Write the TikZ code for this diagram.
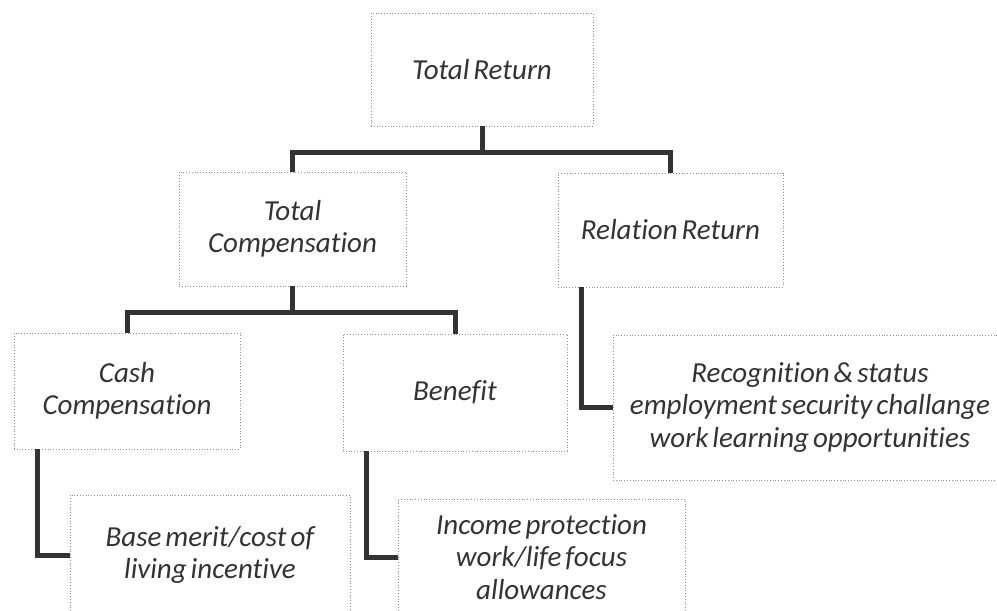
\documentclass[tikz,border=0pt]{standalone}
\usepackage{fontspec}
\setmainfont[Ligatures=CommonOff, WordSpace=0.6]{Carlito}
\begin{document}
\begin{tikzpicture}[x=0.5pt,y=-0.5pt]
\tikzstyle{every node}=[font=\itshape\fontsize{14.5}{16.25}\selectfont, text=black!80]
\tikzstyle{box}=[draw=black!45, densely dotted, thin, fill=white, align=center, inner sep=0pt]
\tikzstyle{link}=[line width=2.5pt, black!80]
\useasboundingbox (0,0) rectangle (997,611);
\clip (0,0) rectangle (997,611);
\fill[white] (0,0) rectangle (997,611);
% boxes of the hierarchy
\node[box, minimum width=111pt, minimum height=56.5pt] (TotalReturn) at (482,69.5) {Total Return};
\node[box, minimum width=113.5pt, minimum height=57pt] (TotalComp) at (292.5,229) {Total\\Compensation};
\node[box, minimum width=112.5pt, minimum height=57pt] (RelationReturn) at (670.5,230) {Relation Return};
\node[box, minimum width=113pt, minimum height=58pt] (CashComp) at (127,391) {Cash\\Compensation};
\node[box, minimum width=112pt, minimum height=58.5pt] (Benefit) at (455,392.5) {Benefit};
\node[box, minimum width=197pt, minimum height=72.5pt] (Recognition) at (810,407.5) {Recognition \& status\\employment security challange\\work learning opportunities};
\node[box, minimum width=140pt, minimum height=60pt] (BaseMerit) at (210,555) {Base merit/cost of\\living incentive};
\node[box, minimum width=143.5pt, minimum height=58pt] (Income) at (541.5,557) {Income protection\\work/life focus\\allowances};
% junctions of the elbow lines
\coordinate (TopJoin)  at (482,152);
\coordinate (CompJoin) at (292.5,312);
\draw[link] (TotalReturn.south) -- (TopJoin);% stem under the root
\draw[link] (TotalComp.north) |- (TopJoin) -| (RelationReturn.north);
\draw[link] (TotalComp.south) -- (CompJoin);
\draw[link] (CashComp.north) |- (CompJoin) -| (Benefit.north);
% side branches to the detail boxes
\draw[link] ([xshift=12pt]RelationReturn.south west) |- (Recognition.west);
\draw[link] ([xshift=12pt]CashComp.south west) |- (BaseMerit.west);
\draw[link] ([xshift=12pt]Benefit.south west) |- (Income.west);
\end{tikzpicture}
\end{document}
